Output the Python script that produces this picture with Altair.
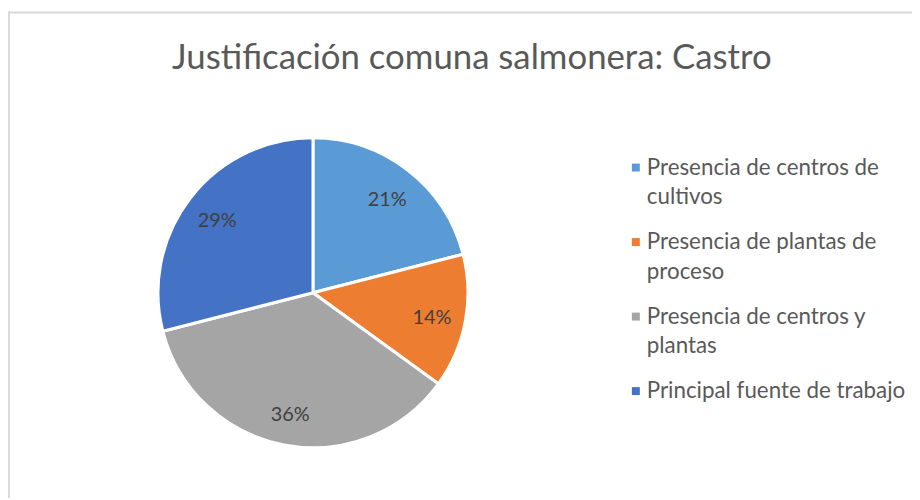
import altair as alt
import pandas as pd

TITLE = "Justificación comuna salmonera: Castro"
CATEGORIES = [
    "Presencia de centros de cultivos",
    "Presencia de plantas de proceso",
    "Presencia de centros y plantas",
    "Principal fuente de trabajo",
]
LEGEND_LABELS = [
    "Presencia de centros de|cultivos",
    "Presencia de plantas de|proceso",
    "Presencia de centros y|plantas",
    "Principal fuente de trabajo",
]
VALUES = [21, 14, 36, 29]
PCT_LABELS = ["21%", "14%", "36%", "29%"]
COLORS = ["#5B9BD5", "#ED7D31", "#A5A5A5", "#4472C4"]

df = pd.DataFrame({
    "cat": CATEGORIES,
    "legend": LEGEND_LABELS,
    "value": VALUES,
    "pct": PCT_LABELS,
    "idx": list(range(len(CATEGORIES))),
})

FONT = "Lato"
CX, CY, R = 307, 285, 156

color = alt.Color("cat:N", scale=alt.Scale(domain=CATEGORIES, range=COLORS), legend=None)
base = alt.Chart(df)

pie = base.mark_arc(outerRadius=R, stroke="white", strokeWidth=3).encode(
    theta=alt.Theta("value:Q", stack=True),
    order=alt.Order("idx:Q"),
    color=color,
    x=alt.value(CX), y=alt.value(CY),
)
pct = base.mark_text(radius=122, fontSize=20, font=FONT, color="#404040", dy=3).encode(
    theta=alt.Theta("value:Q", stack=True),
    order=alt.Order("idx:Q"),
    text="pct:N",
    x=alt.value(CX), y=alt.value(CY),
)

ypos = alt.Y("cat:N", sort=CATEGORIES, axis=None,
             scale=alt.Scale(type="point", range=[159, 384], padding=0))
leg_sym = base.mark_square(size=64, opacity=1).encode(
    x=alt.value(632), y=ypos, color=color,
)
leg_txt = base.mark_text(align="left", baseline="middle", lineBreak="|", lineHeight=30,
                         fontSize=22.5, font=FONT, color="#595959").encode(
    x=alt.value(643), y=ypos, text="legend:N",
)

border_top = alt.Chart(pd.DataFrame({"a": [0]})).mark_rule(color="#d9d9d9", strokeWidth=2).encode(
    x=alt.value(0), x2=alt.value(912), y=alt.value(3))
border_left = alt.Chart(pd.DataFrame({"a": [0]})).mark_rule(color="#d9d9d9", strokeWidth=2).encode(
    x=alt.value(1), y=alt.value(2), y2=alt.value(492))

chart = alt.layer(border_top, border_left, pie, pct, leg_sym, leg_txt).properties(
    width=910, height=490, autosize="none", padding=0,
    title=alt.Title(TITLE, fontSize=35, font=FONT, fontWeight="normal", color="#595959",
                    anchor="middle", baseline="middle", dx=12, dy=84, offset=0),
).configure_view(stroke=None)

chart.save("out.html", embed_options={"renderer": "svg", "actions": False})
